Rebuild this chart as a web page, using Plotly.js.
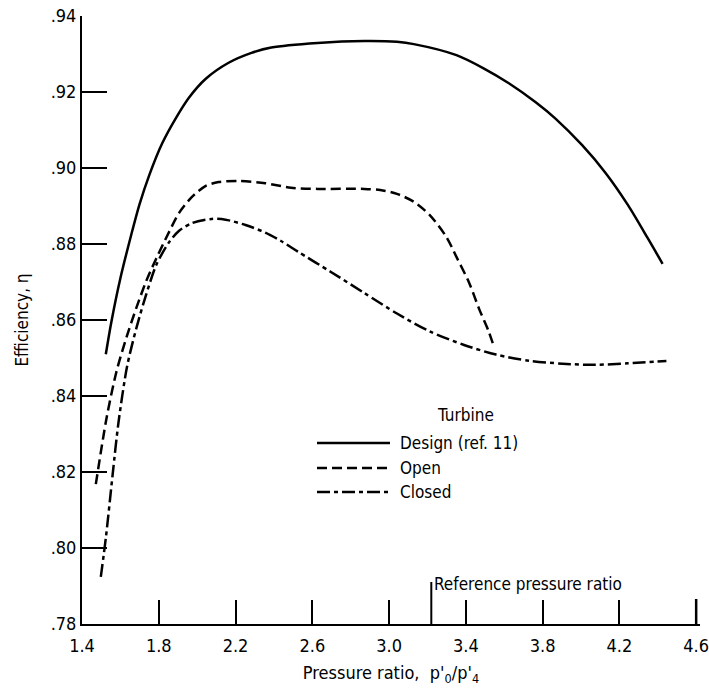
<!DOCTYPE html>
<html>
<head>
<meta charset="utf-8">
<script src="https://cdn.plot.ly/plotly-3.0.1.min.js"></script>
<style>
html, body { margin: 0; padding: 0; background: #fff; }
#chart { width: 709px; height: 689px; }
</style>
</head>
<body>
<div id="chart"></div>
<script>
// ---- data ----
const designX = [1.524, 1.553, 1.600, 1.657, 1.700, 1.751, 1.818, 1.890, 1.957, 2.045, 2.164, 2.283, 2.386, 2.628, 2.871, 3.041, 3.129, 3.351, 3.490, 3.624, 3.764, 3.867, 4.006, 4.125, 4.244, 4.347, 4.425];
const designY = [0.8510, 0.8595, 0.8710, 0.8825, 0.8905, 0.8982, 0.9065, 0.9132, 0.9185, 0.9235, 0.9277, 0.9303, 0.9317, 0.9329, 0.9334, 0.9332, 0.9326, 0.9297, 0.9263, 0.9223, 0.9173, 0.9130, 0.9060, 0.8989, 0.8903, 0.8816, 0.8748];

const openX = [1.472, 1.529, 1.580, 1.632, 1.684, 1.735, 1.787, 1.854, 1.906, 1.973, 2.045, 2.112, 2.215, 2.355, 2.489, 2.628, 2.871, 2.954, 3.041, 3.129, 3.212, 3.299, 3.351, 3.418, 3.470, 3.516, 3.547];
const openY = [0.8168, 0.8345, 0.8465, 0.8555, 0.8633, 0.8703, 0.8762, 0.8832, 0.8882, 0.8924, 0.8953, 0.8963, 0.8966, 0.8960, 0.8948, 0.8945, 0.8945, 0.8942, 0.8932, 0.8911, 0.8876, 0.8818, 0.8766, 0.8697, 0.8628, 0.8574, 0.8529];

const closedX = [1.498, 1.525, 1.560, 1.590, 1.635, 1.684, 1.735, 1.787, 1.854, 1.906, 1.973, 2.076, 2.148, 2.252, 2.355, 2.437, 2.525, 2.695, 2.871, 3.041, 3.212, 3.387, 3.557, 3.728, 3.903, 4.074, 4.244, 4.445];
const closedY = [0.7924, 0.8030, 0.8195, 0.8330, 0.8478, 0.8580, 0.8668, 0.8745, 0.8805, 0.8835, 0.8855, 0.8866, 0.8864, 0.8850, 0.8830, 0.8808, 0.8780, 0.8727, 0.8671, 0.8617, 0.8570, 0.8535, 0.8509, 0.8493, 0.8485, 0.8482, 0.8486, 0.8492];

const seriesNames = ["Design (ref. 11)", "Open", "Closed"];
const legendTitle = "Turbine";

const xTickVals = [1.4, 1.8, 2.2, 2.6, 3.0, 3.4, 3.8, 4.2, 4.6];
const xTickText = ["1.4", "1.8", "2.2", "2.6", "3.0", "3.4", "3.8", "4.2", "4.6"];
const yTickVals = [0.78, 0.80, 0.82, 0.84, 0.86, 0.88, 0.90, 0.92, 0.94];
const yTickText = [".78", ".80", ".82", ".84", ".86", ".88", ".90", ".92", ".94"];

const refPressureRatio = 3.22;
const refLabel = "Reference pressure ratio";

// ---- styles ----
const FONT = "'Liberation Sans Narrow', 'DejaVu Sans Condensed', Arial, sans-serif";
const dashes = ["solid", "10px,5px", "13px,4px,4px,4px"];
const LW = 2.5;
const XRANGE = [1.4, 4.62];

const traces = [
  {x: designX, y: designY, name: seriesNames[0]},
  {x: openX, y: openY, name: seriesNames[1]},
  {x: closedX, y: closedY, name: seriesNames[2]}
].map((t, i) => Object.assign(t, {
  type: "scatter", mode: "lines",
  line: {color: "#000", width: LW, dash: dashes[i], shape: "spline", smoothing: 0.8},
  showlegend: false, hoverinfo: "skip"
}));

// plot area in pixels: x 82..700, y 16..624
const PX0 = 82, PW = 618, PY1 = 624, PH = 608;
const xp = px => (px - PX0) / PW;
const yp = py => (PY1 - py) / PH;

// manual legend (long samples, as in the reference)
const legY = [443, 468, 492];
const shapes = [];
const annotations = [];
seriesNames.forEach((n, i) => {
  shapes.push({type: "line", xref: "paper", yref: "paper", x0: xp(317), x1: xp(390), y0: yp(legY[i]), y1: yp(legY[i]),
    line: {color: "#000", width: LW, dash: dashes[i]}});
  annotations.push({xref: "paper", yref: "paper", x: xp(398), y: yp(legY[i]), xanchor: "left", yanchor: "middle",
    text: n, showarrow: false, font: {family: FONT, size: 17, color: "#000"}});
});
annotations.push({xref: "paper", yref: "paper", x: xp(465), y: yp(415), xanchor: "center", yanchor: "middle",
  text: legendTitle, showarrow: false, font: {family: FONT, size: 17, color: "#000"}});

// reference pressure ratio marker
shapes.push({type: "line", xref: "x", yref: "paper", x0: refPressureRatio, x1: refPressureRatio, y0: 0, y1: yp(582),
  line: {color: "#000", width: 2}});
annotations.push({xref: "x", yref: "paper", x: refPressureRatio, y: yp(584), xanchor: "left", yanchor: "middle",
  xshift: 1, text: refLabel, showarrow: false, font: {family: FONT, size: 17, color: "#000"}});

// end tick at the last x tick value (Plotly drops inside ticks at the range end)
const lastTick = xTickVals[xTickVals.length - 1];
const lastTickPaper = (lastTick - XRANGE[0]) / (XRANGE[1] - XRANGE[0]);
shapes.push({type: "line", xref: "paper", yref: "paper", x0: lastTickPaper, x1: lastTickPaper, y0: 0, y1: 25 / PH,
  line: {color: "#000", width: 2.5}, layer: "above"});

const layout = {
  width: 709, height: 689,
  margin: {l: PX0, r: 709 - PX0 - PW, t: 16, b: 689 - PY1},
  paper_bgcolor: "#fff", plot_bgcolor: "#fff",
  font: {family: FONT, size: 17, color: "#000"},
  showlegend: false,
  xaxis: {
    range: XRANGE, tickmode: "array", tickvals: xTickVals, ticktext: xTickText,
    ticks: "inside", ticklen: 24, tickwidth: 2, tickcolor: "#000",
    ticklabeloverflow: "allow", ticklabelstandoff: 4,
    showline: true, linewidth: 2, linecolor: "#000", mirror: false,
    showgrid: false, zeroline: false,
    tickfont: {family: FONT, size: 18},
    title: {text: "Pressure ratio,  p'<sub>0</sub>/p'<sub>4</sub>", font: {family: FONT, size: 18}, standoff: 12}
  },
  yaxis: {
    range: [0.78, 0.94], tickmode: "array", tickvals: yTickVals, ticktext: yTickText,
    ticks: "inside", ticklen: 25, tickwidth: 2, tickcolor: "#000",
    ticklabeloverflow: "allow",
    showline: true, linewidth: 2, linecolor: "#000",
    showgrid: false, zeroline: false,
    tickfont: {family: FONT, size: 18},
    title: {text: "Efficiency, η", font: {family: FONT, size: 17}, standoff: 18}
  },
  shapes: shapes,
  annotations: annotations
};

Plotly.newPlot("chart", traces, layout, {displayModeBar: false, staticPlot: true});
</script>
</body>
</html>
